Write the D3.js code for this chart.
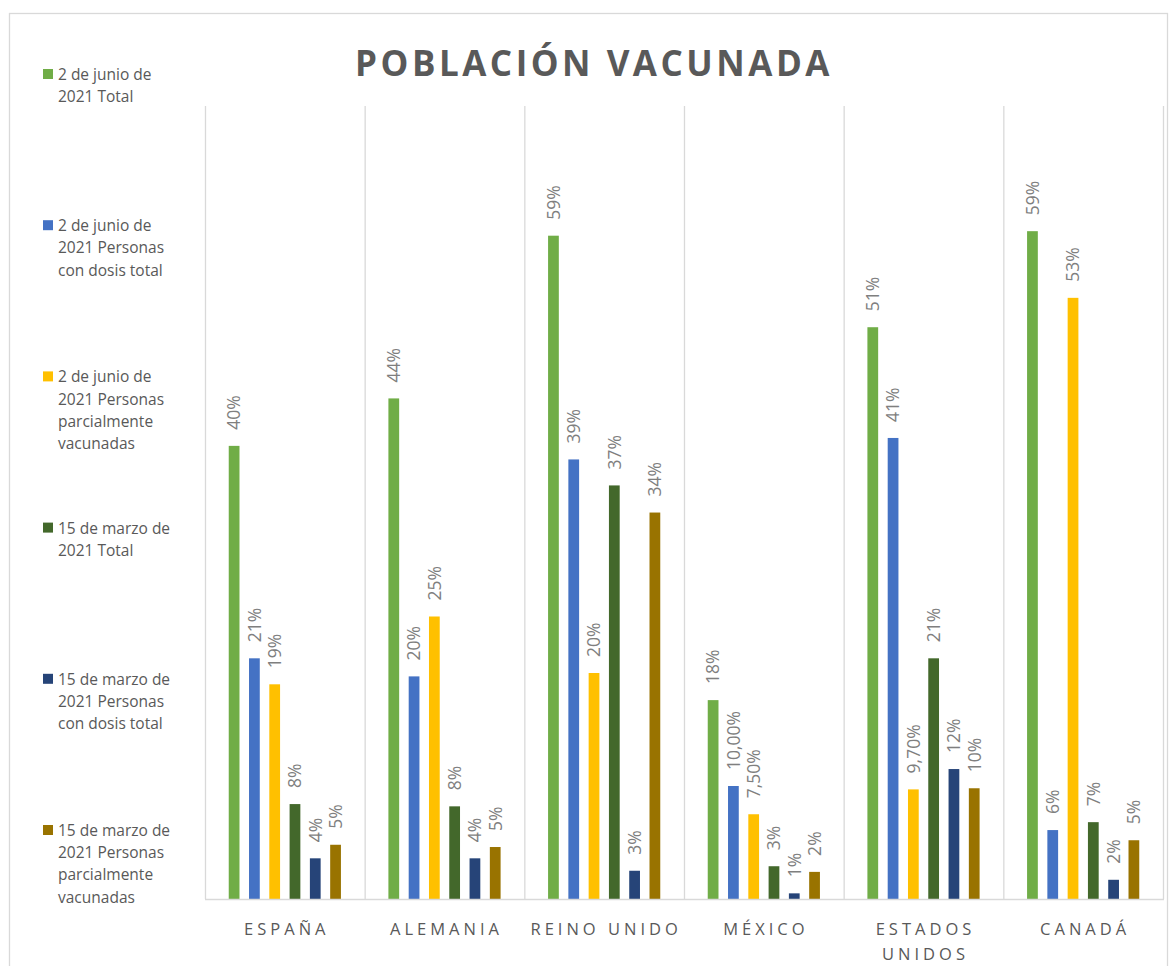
<!DOCTYPE html>
<html>
<head>
<meta charset="utf-8">
<script src="https://cdn.jsdelivr.net/npm/d3@7"></script>
<style>
  body { margin: 0; background: #fff; }
  svg text { font-family: 'Open Sans', 'Noto Sans', sans-serif; }
</style>
</head>
<body>
<svg id="chart" width="1170" height="966"></svg>
<script>
const countries = ['ESPAÑA', 'ALEMANIA', 'REINO UNIDO', 'MÉXICO', 'ESTADOS UNIDOS', 'CANADÁ'];

const seriesNames = [
  '2 de junio de 2021 Total',
  '2 de junio de 2021 Personas con dosis total',
  '2 de junio de 2021 Personas parcialmente vacunadas',
  '15 de marzo de 2021 Total',
  '15 de marzo de 2021 Personas con dosis total',
  '15 de marzo de 2021 Personas parcialmente vacunadas',
];
const seriesColors = ['#70ad47', '#4472c4', '#ffc000', '#43682b', '#264478', '#997300'];

// legend lines as wrapped in the original
const legendLines = [
  ['2 de junio de', '2021 Total'],
  ['2 de junio de', '2021 Personas', 'con dosis total'],
  ['2 de junio de', '2021 Personas', 'parcialmente', 'vacunadas'],
  ['15 de marzo de', '2021 Total'],
  ['15 de marzo de', '2021 Personas', 'con dosis total'],
  ['15 de marzo de', '2021 Personas', 'parcialmente', 'vacunadas'],
];

// values (%) per series, in country order
const junTotal    = [40.1, 44.3, 58.7, 17.6, 50.6, 59.1];
const junDosis    = [21.3, 19.7, 38.9, 10.0, 40.8, 6.1];
const junParcial  = [19.0, 25.0, 20.0, 7.5, 9.7, 53.2];
const marTotal    = [8.4, 8.2, 36.6, 2.9, 21.3, 6.8];
const marDosis    = [3.6, 3.6, 2.5, 0.5, 11.5, 1.7];
const marParcial  = [4.8, 4.6, 34.2, 2.4, 9.8, 5.2];

// labels as shown on the bars
const junTotalLbl   = ['40%', '44%', '59%', '18%', '51%', '59%'];
const junDosisLbl   = ['21%', '20%', '39%', '10,00%', '41%', '6%'];
const junParcialLbl = ['19%', '25%', '20%', '7,50%', '9,70%', '53%'];
const marTotalLbl   = ['8%', '8%', '37%', '3%', '21%', '7%'];
const marDosisLbl   = ['4%', '4%', '3%', '1%', '12%', '2%'];
const marParcialLbl = ['5%', '5%', '34%', '2%', '10%', '5%'];

const seriesValues = [junTotal, junDosis, junParcial, marTotal, marDosis, marParcial];
const seriesLabels = [junTotalLbl, junDosisLbl, junParcialLbl, marTotalLbl, marDosisLbl, marParcialLbl];

const svg = d3.select('#chart');
const PLOT = { left: 205, right: 1163, top: 108, bottom: 899 };

// outer chart border
svg.append('rect')
  .attr('x', 9.5).attr('y', 13.5)
  .attr('width', 1158).attr('height', 980)
  .attr('fill', 'none').attr('stroke', '#d9d9d9').attr('stroke-width', 1.3);

const x0 = d3.scaleBand().domain(countries).range([PLOT.left, PLOT.right]).paddingInner(0).paddingOuter(0);
const x1 = d3.scaleBand().domain(d3.range(seriesNames.length))
  .range([0, x0.bandwidth()]).paddingInner(0.47).paddingOuter(1.17);
const y = d3.scaleLinear().domain([0, 70]).range([PLOT.bottom, PLOT.top]);

// vertical category separators
const seps = countries.map((c) => x0(c)).concat([PLOT.right]);
svg.append('g').selectAll('line').data(seps).join('line')
  .attr('x1', (d) => d + 0.5).attr('x2', (d) => d + 0.5)
  .attr('y1', y(70) - 2).attr('y2', y(0))
  .attr('stroke', '#d9d9d9').attr('stroke-width', 1.3);

// bars
const groups = svg.append('g').selectAll('g').data(seriesValues).join('g')
  .attr('fill', (d, i) => seriesColors[i]);

groups.each(function (vals, si) {
  const g = d3.select(this);
  g.selectAll('rect').data(vals).join('rect')
    .attr('x', (d, ci) => x0(countries[ci]) + x1(si))
    .attr('y', (d) => y(d))
    .attr('width', x1.bandwidth())
    .attr('height', (d) => y(0) - y(d));

  g.selectAll('text').data(vals).join('text')
    .attr('transform', (d, ci) => {
      const cx = x0(countries[ci]) + x1(si) + x1.bandwidth() / 2;
      return `translate(${cx},${y(d) - 16})rotate(-90)`;
    })
    .attr('dy', '0.36em')
    .attr('fill', '#7f7f7f')
    .style('font-size', '17.5px')
    .text((d, ci) => seriesLabels[si][ci]);
});

// baseline
svg.append('line')
  .attr('x1', PLOT.left).attr('x2', PLOT.right + 1)
  .attr('y1', y(0) + 0.5).attr('y2', y(0) + 0.5)
  .attr('stroke', '#d9d9d9').attr('stroke-width', 1.3);

// category axis labels
const xAxis = svg.append('g');
countries.forEach((c) => {
  const words = c === 'ESTADOS UNIDOS' ? ['ESTADOS', 'UNIDOS'] : [c];
  const t = xAxis.append('text')
    .attr('y', 935)
    .attr('text-anchor', 'middle')
    .attr('fill', '#595959')
    .style('font-size', '16.5px')
    .style('letter-spacing', '4px');
  words.forEach((w, i) => {
    t.append('tspan')
      .attr('x', x0(c) + x0.bandwidth() / 2 + 2)
      .attr('dy', i === 0 ? 0 : 25)
      .text(w);
  });
});

// title
svg.append('text')
  .attr('x', 594).attr('y', 76)
  .attr('text-anchor', 'middle')
  .attr('fill', '#595959')
  .style('font-size', '35px')
  .style('font-weight', 'bold')
  .style('letter-spacing', '3.5px')
  .text('POBLACIÓN  VACUNADA');

// legend
const legend = svg.append('g');
legendLines.forEach((lines, i) => {
  const top = 74 + i * 151.2;
  legend.append('rect')
    .attr('x', 43).attr('y', top - 5)
    .attr('width', 10).attr('height', 10)
    .attr('fill', seriesColors[i]);
  const t = legend.append('text')
    .attr('fill', '#595959')
    .style('font-size', '15.5px');
  lines.forEach((l, k) => {
    t.append('tspan')
      .attr('x', 58)
      .attr('y', top + 6 + k * 22.2)
      .text(l);
  });
});
</script>
</body>
</html>
